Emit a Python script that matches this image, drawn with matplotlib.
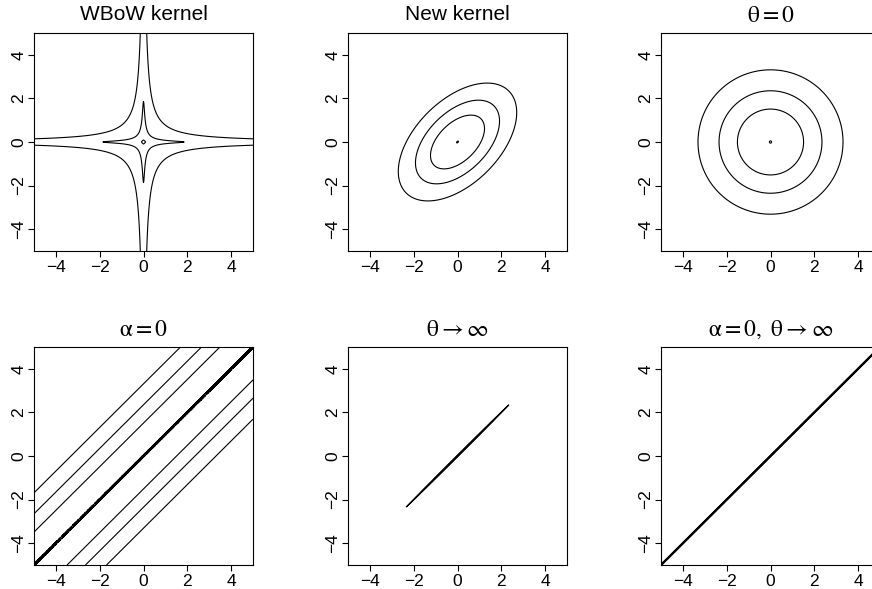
import numpy as np
import matplotlib.pyplot as plt

plt.rcParams['font.family'] = ['Liberation Sans', 'DejaVu Sans']
plt.rcParams['mathtext.fontset'] = 'stix'

# panel titles (row by row)
titles = ['WBoW kernel', 'New kernel',
          r'$\mathrm{\theta = 0}$', r'$\mathrm{\alpha = 0}$',
          r'$\mathrm{\theta \rightarrow \infty}$',
          r'$\mathrm{\alpha = 0,\ \theta \rightarrow \infty}$']
math_title = [False, False, True, True, True, True]

# WBoW kernel: q = x^2 y^2 + eps (x^2 + y^2)
wbow_eps = 0.0025
wbow_levels = [2e-5, 0.0086, 0.6]

# new kernel: q = alpha (x^2 + y^2) + theta (x - y)^2, for panels 2..6
alpha = [1, 1, 0, 1, 0]
theta = [1, 0, 1, 8000, 8000]
levels = [0.0025, 2.28, 5.52, 10.96]

ticks = [-4, -2, 0, 2, 4]

W, H = 872, 589
fig = plt.figure(figsize=(W / 100, H / 100), dpi=100)

cols_left = [34, 348, 661]
rows_top = [33, 347]
aw, ah = 219, 218

g = np.linspace(-5, 5, 1601)
X, Y = np.meshgrid(g, g)

for i in range(6):
    r, c = divmod(i, 3)
    ax = fig.add_axes([cols_left[c] / W, (H - rows_top[r] - ah) / H, aw / W, ah / H])
    if i == 0:
        Z = X**2 * Y**2 + wbow_eps * (X**2 + Y**2)
        lv = wbow_levels
    else:
        a, t = alpha[i - 1], theta[i - 1]
        Z = a * (X**2 + Y**2) + t * (X - Y)**2
        lv = levels
    ax.contour(X, Y, Z, levels=lv, colors='black', linewidths=0.8)
    ax.set_xlim(-5, 5)
    ax.set_ylim(-5, 5)
    ax.set_xticks(ticks)
    ax.set_yticks(ticks)
    ax.set_xticklabels(['\u2212' + str(-v) if v < 0 else str(v) for v in ticks])
    ax.set_yticklabels(['\u2212' + str(-v) if v < 0 else str(v) for v in ticks],
                       rotation=90, va='center')
    ax.tick_params(direction='out', length=4.5, width=0.8, labelsize=12.5)
    ax.tick_params(axis='x', pad=2)
    ax.tick_params(axis='y', pad=1)
    for s in ax.spines.values():
        s.set_linewidth(0.8)
    if math_title[i]:
        ax.set_title(titles[i], fontsize=17, pad=8)
    else:
        ax.set_title(titles[i], fontsize=15, pad=9)

fig.savefig('out.png', dpi=100)
